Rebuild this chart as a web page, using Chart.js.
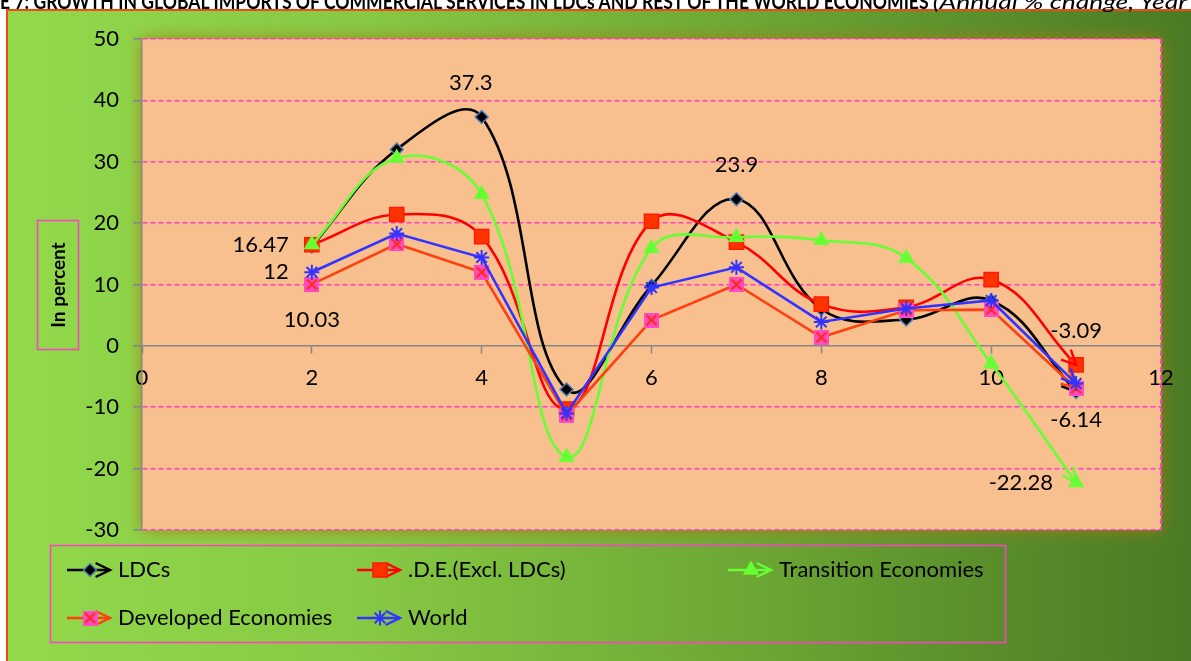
<!DOCTYPE html>
<html>
<head>
<meta charset="utf-8">
<script src="https://cdn.jsdelivr.net/npm/chart.js@4.4.1/dist/chart.umd.min.js"></script>
<style>
html, body { margin: 0; padding: 0; background: #fff; overflow: hidden; }
#grafica { position: absolute; left: 0; top: 0; }
#titulo { position: absolute; left: 0; top: -9px; font: bold 20px Lato, sans-serif; line-height: 20px; white-space: nowrap; color: #000; z-index: 2; transform: scaleX(0.88); transform-origin: 0 0; }
#titulo i { font-weight: normal; display: inline-block; transform: scaleX(1.5); transform-origin: 0 0; }
</style>
</head>
<body>
<div id="titulo">E 7: GROWTH IN GLOBAL IMPORTS OF COMMERCIAL SERVICES IN LDCs AND REST OF THE WORLD ECONOMIES <i>(Annual % change, Year</i></div>
<canvas id="grafica" width="1191" height="661" style="width:1191px;height:661px"></canvas>
<script>
// datos
var anios = [2, 3, 4, 5, 6, 7, 8, 9, 10, 11];
var ldcs = [16.2, 32.0, 37.3, -7.1, 9.8, 23.9, 6.0, 4.3, 7.4, -7.5];
var deExclLdcs = [16.47, 21.4, 17.8, -10.3, 20.3, 16.9, 6.8, 6.3, 10.8, -3.09];
var transicion = [16.5, 30.6, 24.7, -18.1, 15.9, 17.7, 17.2, 14.3, -2.9, -22.28];
var desarrolladas = [10.03, 16.6, 12.0, -11.3, 4.2, 10.0, 1.4, 5.8, 5.9, -6.9];
var mundo = [12, 18.3, 14.4, -11.0, 9.5, 12.8, 3.9, 6.1, 7.4, -6.14];
var nombresSeries = ["LDCs", ".D.E.(Excl. LDCs)", "Transition Economies", "Developed Economies", "World"];
var tituloEjeY = "In percent";

var fuente = 'Lato, "Open Sans", sans-serif';
var rosa = '#ff3fc6';
var gris = '#868686';

function puntos(valores){
    return anios.map(function(a, i){ return {x: a, y: valores[i]}; });
}

function marcaDesarrolladas(){
    var c = document.createElement('canvas');
    c.width = 15; c.height = 15;
    var g = c.getContext('2d');
    g.fillStyle = '#ff4cc6';
    g.fillRect(0, 0, 15, 15);
    g.strokeStyle = '#ff2a10';
    g.lineWidth = 2;
    g.beginPath();
    g.moveTo(2.5, 2.5); g.lineTo(12.5, 12.5);
    g.moveTo(12.5, 2.5); g.lineTo(2.5, 12.5);
    g.stroke();
    return c;
}
var imgDesarrolladas = marcaDesarrolladas();

var estilos = [
    {color: '#000000', punto: 'rectRot', relleno: '#000000', borde: '#4f81bd', radio: 6.5, tension: 0.4},
    {color: '#ff0000', punto: 'rect', relleno: '#ff3300', borde: '#ff1a00', radio: 10, tension: 0.4},
    {color: '#66ff33', punto: 'triangle', relleno: '#66ff33', borde: '#66ff33', radio: 8, tension: 0.4},
    {color: '#ff4010', punto: imgDesarrolladas, relleno: '#ff4cc6', borde: '#ff2a10', radio: 7, tension: 0},
    {color: '#3333ff', punto: 'star', relleno: '#3333ff', borde: '#3333ff', radio: 7.5, tension: 0}
];

var valoresSeries = [ldcs, deExclLdcs, transicion, desarrolladas, mundo];

// etiquetas de datos: serie, indice, lugar
var etiquetas = [
    [0, 2, 'arribaIzq'], [0, 5, 'arriba'],
    [1, 0, 'izq'], [4, 0, 'izq'], [3, 0, 'abajo'],
    [1, 9, 'arriba'], [4, 9, 'abajo'], [2, 9, 'izq']
];

var datasets = valoresSeries.map(function(v, i){
    var e = estilos[i];
    return {
        label: nombresSeries[i],
        data: puntos(v),
        borderColor: e.color,
        borderWidth: 2.6,
        backgroundColor: e.relleno,
        pointStyle: e.punto,
        pointRadius: e.radio,
        pointBackgroundColor: e.relleno,
        pointBorderColor: e.borde,
        pointBorderWidth: i == 4 ? 2 : 1.5,
        tension: e.tension,
        order: 5 - i
    };
});

function flecha(ctx, x0, y0, x1, y1, color){
    var ang = Math.atan2(y1 - y0, x1 - x0);
    var l = 16, a = 0.45;
    ctx.save();
    ctx.strokeStyle = color;
    ctx.lineWidth = 2.4;
    ctx.beginPath();
    ctx.moveTo(x1 - l * Math.cos(ang - a), y1 - l * Math.sin(ang - a));
    ctx.lineTo(x1, y1);
    ctx.lineTo(x1 - l * Math.cos(ang + a), y1 - l * Math.sin(ang + a));
    ctx.stroke();
    ctx.restore();
}

function simbolo(ctx, i, x, y){
    var e = estilos[i];
    ctx.save();
    ctx.strokeStyle = e.color;
    ctx.lineWidth = 2.6;
    ctx.beginPath();
    ctx.moveTo(x, y);
    ctx.lineTo(x + 43, y);
    ctx.stroke();
    flecha(ctx, x, y, x + 43, y, e.color);
    ctx.fillStyle = e.relleno;
    ctx.strokeStyle = e.borde;
    ctx.lineWidth = i == 4 ? 2 : 1.5;
    Chart.helpers.drawPoint(ctx, {pointStyle: e.punto, radius: e.radio, rotation: 0, borderWidth: ctx.lineWidth}, x + 23, y);
    ctx.restore();
}

var fondo = {
    id: 'fondo',
    beforeDraw: function(chart){
        var ctx = chart.ctx, a = chart.chartArea;
        ctx.save();
        var grad = ctx.createLinearGradient(7, 0, 1191, 0);
        grad.addColorStop(0, '#92d94b');
        grad.addColorStop(0.3, '#86c943');
        grad.addColorStop(0.65, '#6aa433');
        grad.addColorStop(1, '#4a7a23');
        ctx.fillStyle = grad;
        ctx.fillRect(7, 10, 1184, 651);
        ctx.strokeStyle = '#f04a14';
        ctx.lineWidth = 2;
        ctx.beginPath();
        ctx.moveTo(7, 661); ctx.lineTo(7, 10); ctx.lineTo(1191, 10);
        ctx.stroke();
        // brillo alrededor del area
        ctx.shadowColor = 'rgba(165,120,18,0.9)';
        ctx.shadowBlur = 16;
        ctx.fillStyle = '#f8c08f';
        ctx.fillRect(a.left, a.top, a.width, a.height);
        ctx.shadowBlur = 0;
        ctx.shadowColor = 'transparent';
        ctx.fillRect(a.left, a.top, a.width, a.height);
        ctx.strokeStyle = rosa;
        ctx.lineWidth = 2;
        ctx.setLineDash([5, 3]);
        ctx.beginPath();
        ctx.moveTo(a.right, a.top); ctx.lineTo(a.right, a.bottom);
        ctx.stroke();
        ctx.restore();
    },
    afterDatasetDraw: function(chart, args){
        var pts = args.meta.data;
        var n = pts.length;
        var p0 = pts[n - 2], p1 = pts[n - 1];
        flecha(chart.ctx, p0.x, p0.y, p1.x, p1.y, estilos[args.index].color);
    },
    afterDraw: function(chart){
        var ctx = chart.ctx;
        ctx.save();
        // etiquetas de datos
        ctx.font = '22px ' + fuente;
        ctx.fillStyle = '#000';
        ctx.textBaseline = 'middle';
        etiquetas.forEach(function(et){
            var p = chart.getDatasetMeta(et[0]).data[et[1]];
            var txt = String(valoresSeries[et[0]][et[1]]);
            if (et[2] == 'izq'){ ctx.textAlign = 'right'; ctx.fillText(txt, p.x - 23, p.y); }
            else if (et[2] == 'arriba'){ ctx.textAlign = 'center'; ctx.fillText(txt, p.x, p.y - 34); }
            else if (et[2] == 'arribaIzq'){ ctx.textAlign = 'center'; ctx.fillText(txt, p.x - 11, p.y - 34); }
            else { ctx.textAlign = 'center'; ctx.fillText(txt, p.x, p.y + 36); }
        });
        // titulo eje y
        ctx.strokeStyle = rosa;
        ctx.lineWidth = 1.5;
        ctx.strokeRect(37.5, 220.5, 41, 129);
        ctx.translate(59, 285);
        ctx.rotate(-Math.PI / 2);
        ctx.font = 'bold 19px ' + fuente;
        ctx.textAlign = 'center';
        ctx.fillText(tituloEjeY, 0, 0);
        ctx.restore();

        // leyenda
        ctx.save();
        ctx.strokeStyle = rosa;
        ctx.lineWidth = 1.5;
        ctx.strokeRect(50.5, 545.5, 955, 97);
        var lugares = [[67, 570], [357, 570], [728, 570], [67, 618], [357, 618]];
        ctx.font = '22px ' + fuente;
        ctx.textBaseline = 'middle';
        ctx.textAlign = 'left';
        lugares.forEach(function(l, i){
            simbolo(ctx, i, l[0], l[1]);
            ctx.fillStyle = '#000';
            ctx.fillText(nombresSeries[i], l[0] + 51, l[1]);
        });
        ctx.restore();
    }
};

new Chart(document.getElementById('grafica'), {
    type: 'line',
    data: {datasets: datasets},
    plugins: [fondo],
    options: {
        responsive: false,
        animation: false,
        layout: {padding: {left: 0, top: 39, right: 30, bottom: 131}},
        plugins: {legend: {display: false}, tooltip: {enabled: false}},
        scales: {
            x: {
                type: 'linear',
                position: {y: 0},
                min: 0, max: 12,
                ticks: {stepSize: 2, color: '#000', font: {family: fuente, size: 22}, padding: 12, maxRotation: 0},
                grid: {drawOnChartArea: false, tickColor: gris, tickLength: 7, tickWidth: 1.5},
                border: {color: gris, width: 1.5},
                afterFit: function(s){ s.paddingLeft = 0; s.paddingRight = 0; }
            },
            y: {
                min: -30, max: 50,
                ticks: {stepSize: 10, color: '#000', font: {family: fuente, size: 22}, padding: 14},
                grid: {
                    color: function(c){ return c.tick && c.tick.value === 0 ? 'rgba(0,0,0,0)' : rosa; },
                    lineWidth: 1.6, tickColor: gris, tickLength: 9, tickWidth: 1.5
                },
                border: {color: gris, width: 1.5, dash: [5, 3]},
                afterFit: function(s){ s.width = 142; s.paddingTop = 0; s.paddingBottom = 0; }
            }
        }
    }
});
</script>
</body>
</html>
